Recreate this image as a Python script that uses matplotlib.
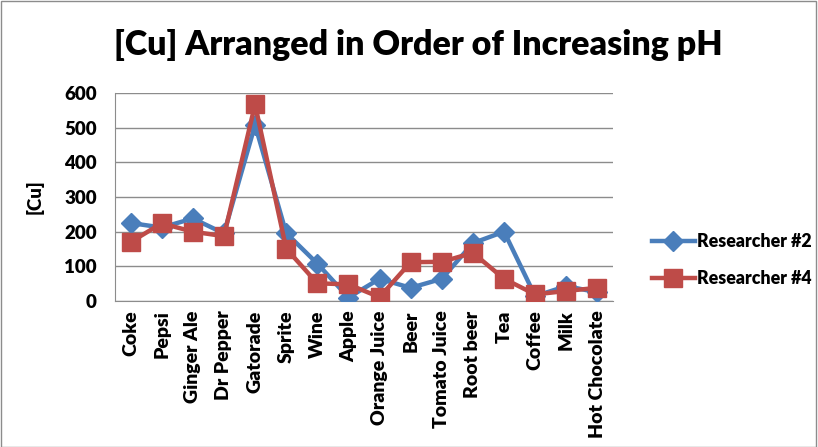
import matplotlib
matplotlib.use("Agg")
import matplotlib.pyplot as plt
from matplotlib.patches import Rectangle

categories = ["Coke", "Pepsi", "Ginger Ale", "Dr Pepper", "Gatorade", "Sprite", "Wine",
              "Apple", "Orange Juice", "Beer", "Tomato Juice", "Root beer", "Tea",
              "Coffee", "Milk", "Hot Chocolate"]
researcher2 = [225, 212, 238, 195, 508, 196, 108, 10, 64, 38, 64, 167, 200, 14, 43, 25]
researcher4 = [170, 224, 200, 187, 567, 151, 51, 48, 11, 112, 113, 139, 64, 19, 29, 38]
yticks = [0, 100, 200, 300, 400, 500, 600]

plt.rcParams['font.family'] = ['Lato', 'DejaVu Sans']
WEIGHT = "heavy"

W, H = 818, 447
fig = plt.figure(figsize=(W / 100, H / 100), dpi=100)
ax = fig.add_axes([115 / W, 1 - 301 / H, (613 - 115) / W, (301 - 93) / H])

x = list(range(len(categories)))
blue = "#4A7EBB"
red = "#BE4B48"
ax.plot(x, researcher2, color=blue, lw=3.2, marker="D", ms=10, label="Researcher #2", zorder=3)
ax.plot(x, researcher4, color=red, lw=3.2, marker="s", ms=12.5, label="Researcher #4", zorder=4)

ax.set_xlim(-0.5, len(categories) - 0.5)
ax.set_ylim(0, 600)
ax.set_yticks(yticks)
ax.set_yticklabels([str(v) for v in yticks], fontsize=13.5, fontweight=WEIGHT)
ax.set_xticks(x)
ax.set_xticklabels(categories, rotation=90, fontsize=14, fontweight=WEIGHT)
ax.tick_params(axis="y", length=0, pad=13)
ax.tick_params(axis="x", length=0, pad=7)
ax.grid(axis="y", color="#8C8C8C", lw=1)
ax.set_axisbelow(True)
for s in ["top", "right"]:
    ax.spines[s].set_visible(False)
for s in ["left", "bottom"]:
    ax.spines[s].set_color("#8C8C8C")
ax.set_ylabel("[Cu]", fontsize=13.5, fontweight=WEIGHT)
ax.yaxis.set_label_coords(44 / W, 1 - 197 / H, transform=fig.transFigure)

fig.text(418 / W, 1 - 45 / H, "[Cu] Arranged in Order of Increasing pH", ha="center", va="center",
         fontsize=24.5, fontweight=WEIGHT)

ax.legend(loc="center left", bbox_to_anchor=(636 / W, 1 - 260 / H), bbox_transform=fig.transFigure,
          frameon=False, prop={"weight": WEIGHT, "size": 12.8}, handlelength=2.4,
          labelspacing=1.1, handletextpad=0.15)

fig.patches.append(Rectangle((0.001, 0.001), 0.997, 0.997, transform=fig.transFigure,
                             fill=False, edgecolor="#8C8C8C", lw=1))
fig.savefig("out.png", dpi=100)
